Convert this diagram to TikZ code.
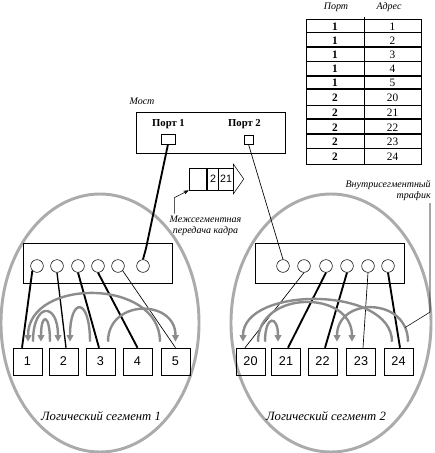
\documentclass[tikz,border=0pt]{standalone}
\usepackage{fontspec}
\setmainfont{Liberation Serif}
\newfontfamily\arialfont{Liberation Sans}
\usetikzlibrary{arrows.meta,calc}

\tikzset{
  seg/.style={draw=black!33, line width=2.2pt},
  hub/.style={draw, minimum width=111.75pt, minimum height=30pt, inner sep=0pt},
  hport/.style={draw, circle, minimum size=9.5pt, inner sep=0pt},
  station/.style={draw, minimum width=21.75pt, minimum height=20.25pt, inner sep=0pt,
    font=\arialfont\fontsize{9.5}{10}\selectfont},
  cell/.style={inner sep=0pt, font=\fontsize{8.5}{9}\selectfont},
  thinlink/.style={line width=0.5pt},
  thicklink/.style={line width=1.4pt},
  traffic/.style={draw=black!45, line width=1.8pt, -{Triangle[length=5pt,width=5pt]}},
  lbl/.style={font=\itshape\fontsize{7.5}{8.5}\selectfont, inner sep=0pt},
}

\begin{document}
\begin{tikzpicture}[x=0.75pt, y=-0.75pt]
    \useasboundingbox (0,0) rectangle (435,453);
    % logical segments
    \draw[seg] (100,323) ellipse [x radius=99, y radius=129];
    \draw[seg] (331,323) ellipse [x radius=100, y radius=129];

    % address table
    \node[lbl] (hport) at (336,7) {Порт};
    \node[lbl] (haddr) at (389,7) {Адрес};
    \draw (306,19) rectangle (421,164);
    \draw (364,17) -- (364,164);
    \foreach \y/\w in {32/0.6,47/1.5,61/0.6,76/1.5,89/2.2,105/0.6,119/1.5,134/1.5,148/0.6}
        \draw[line width=\w pt] (306,\y) -- (421,\y);
    \foreach \p/\a/\y in {1/1/26.5,1/2/40.5,1/3/55,1/4/69,1/5/83,
                          2/20/98,2/21/113,2/22/127.5,2/23/141.5,2/24/157}{
        \node[cell, font=\bfseries\fontsize{8.5}{9}\selectfont] (tp\a) at (335,\y) {\p};
        \node[cell] (ta\a) at (392.5,\y) {\a};
    }

    % bridge
    \node[lbl] (most) at (142,101) {Мост};
    \node[draw, minimum width=111.75pt, minimum height=30.75pt] (bridge) at (210.5,132.5) {};
    \node[font=\bfseries\fontsize{8}{9}\selectfont, inner sep=0pt] (pl1) at (168.5,124) {Порт 1};
    \node[font=\bfseries\fontsize{8}{9}\selectfont, inner sep=0pt] (pl2) at (244.5,124) {Порт 2};
    \node[draw, minimum width=10.5pt, minimum height=7.5pt, inner sep=0pt] (p1) at (168,139) {};
    \node[draw, minimum width=6.75pt, minimum height=6.75pt, inner sep=0pt] (p2) at (248.5,139.5) {};

    % frame in transit
    \node[draw, minimum width=33pt, minimum height=16.5pt, inner sep=0pt] (pkt) at (211,179) {};
    \draw[line width=1.2pt] ($(pkt.north west)+(18,0)$) -- ($(pkt.south west)+(18,0)$);
    \draw ($(pkt.north west)+(30,0)$) -- ($(pkt.south west)+(30,0)$);
    \draw ($(pkt.east)+(0,-15)$) -- ($(pkt.east)+(10.5,0)$) -- ($(pkt.east)+(0,15)$) -- cycle;
    \node[font=\arialfont\fontsize{8}{9}\selectfont, inner sep=0pt] (d2) at (213,179) {2};
    \node[font=\arialfont\fontsize{8}{9}\selectfont, inner sep=0pt] (d21) at (226,179) {21};
    \node[lbl, align=center] (ml) at (205.5,226) {Межсегментная\\передача кадра};
    \draw[-{Stealth[length=4pt,width=3pt]}] (ml.north west) ++(5,-2) -- ++(0,-16) -- (pkt.south west);

    % hubs, ports and stations
    \node[hub] (hubL) at (97.5,263) {};
    \node[hub] (hubR) at (330,263) {};
    \foreach \x [count=\i] in {37,57,78,98,118,143}
        \node[hport] (l\i) at (\x,266) {};
    \foreach \x [count=\i] in {283,304,326,347,368,388}
        \node[hport] (r\i) at (\x,266) {};
    \foreach \x/\n in {27.5/1,63.5/2,100.5/3,137.5/4,175.5/5,250.5/20,286/21,322.5/22,361/23,398.5/24}
        \node[station] (s\n) at (\x,361.5) {\n};

    % cables
    \draw[thicklink] (l1.south west) -- ($(s1.north)+(-5.5,0)$);
    \draw[line width=1pt] (l2.south) -- ($(s2.north)+(2.5,0)$);
    \draw[thicklink] (l3.south) -- ($(s3.north)+(-1.5,0)$);
    \draw[thicklink] (l4.south) -- (s4.north);
    \draw[thinlink] (l5.south east) -- (s5.north);
    \draw[thicklink] (l6.north) -- ++(3,-11) -- (p1.south);
    \draw[thinlink] (p2.south) -- (r1.north);
    \draw[thinlink] (r2.south) -- ($(s20.north)+(-5.5,0)$);
    \draw[thicklink] (r3.south) -- ($(s21.north)+(2,0)$);
    \draw[thicklink] (r4.south) -- ($(s22.north)+(2.5,0)$);
    \draw[thinlink] (r5.south) -- ($(s23.north)+(2,0)$);
    \draw[thicklink] (r6.south) -- ($(s24.north)+(1.5,0)$);

    % traffic inside segment 1
    \draw[traffic] ($(s5.north)+(-15.5,-6)$) .. controls +(0,-64) and +(0,-64) .. ($(s1.north)+(0.5,-6)$);
    \draw[traffic] ($(s1.north)+(5.5,-6)$) .. controls +(0,-40) and +(0,-40) .. ($(s2.north)+(-5.5,-6)$);
    \draw[traffic] ($(s2.north)+(-13.5,-6)$) .. controls +(0,-29) and +(0,-29) .. ($(s1.north)+(13.5,-6)$);
    \draw[traffic] ($(s3.north)+(-10.5,-6)$) .. controls +(0,-45) and +(0,-45) .. ($(s2.north)+(6.5,-6)$);
    \draw[traffic] ($(s3.north)+(7.5,-6)$) .. controls +(0,-43) and +(0,-43) .. ($(s5.north)+(0,-6)$);
    % traffic inside segment 2
    \draw[traffic] ($(s24.north)+(-6.5,-6)$) .. controls +(0,-56) and +(0,-56) .. ($(s20.north)+(-7.5,-6)$);
    \draw[traffic] ($(s20.north)+(7.5,-6)$) .. controls +(0,-52) and +(0,-52) .. ($(s23.north)+(-9,-6)$);
    \draw[traffic] ($(s20.north)+(14.5,-6)$) .. controls +(0,-27) and +(0,-27) .. ($(s21.north)+(-8,-6)$);
    \draw[traffic] ($(s24.north)+(9.5,-6)$) .. controls +(0,-45) and +(0,-45) .. ($(s22.north)+(14.5,-6)$)
        coordinate[pos=0.12] (intra);

    \node[lbl, align=right, anchor=north east] (trlbl) at (431,180) {Внутрисегментный\\трафик};
    \draw (trlbl.south east) ++(-1,2) -- ++(0,109) -- (intra);

    \node[font=\itshape\fontsize{9.5}{10}\selectfont, inner sep=0pt] (seg1) at (101,416) {Логический сегмент 1};
    \node[font=\itshape\fontsize{9.5}{10}\selectfont, inner sep=0pt] (seg2) at (326,416) {Логический сегмент 2};
\end{tikzpicture}
\end{document}
